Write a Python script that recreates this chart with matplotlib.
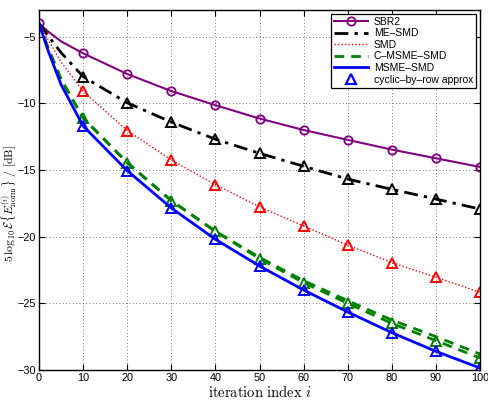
import matplotlib
matplotlib.use("Agg")
import matplotlib.pyplot as plt
from matplotlib.lines import Line2D

plt.rcParams['mathtext.fontset'] = 'cm'
plt.rcParams['font.family'] = ['Liberation Sans', 'DejaVu Sans']

# iteration grid used for the curves
iters = [0, 2, 5, 10, 20, 30, 40, 50, 60, 70, 80, 90, 100]
# marker positions
mk_iters = [10, 20, 30, 40, 50, 60, 70, 80, 90, 100]

sbr2 = [-4.0, -4.6, -5.35, -6.25, -7.8, -9.08, -10.14, -11.14, -12.0, -12.74, -13.47, -14.12, -14.77]
me_smd = [-4.0, -4.9, -6.2, -8.0, -9.96, -11.41, -12.69, -13.75, -14.72, -15.68, -16.45, -17.18, -17.93]
smd = [-4.0, -5.2, -6.9, -9.1, -12.04, -14.25, -16.1, -17.76, -19.2, -20.64, -21.94, -23.05, -24.17]
c_msme = [-4.0, -5.8, -8.2, -11.1, -14.45, -17.3, -19.6, -21.55, -23.3, -24.8, -26.25, -27.5, -28.8]
c_msme_approx = [-4.0, -5.8, -8.2, -11.1, -14.45, -17.3, -19.6, -21.65, -23.45, -25.0, -26.5, -27.8, -29.1]
msme = [-4.0, -6.0, -8.6, -11.7, -15.05, -17.85, -20.2, -22.2, -24.0, -25.65, -27.2, -28.6, -29.85]

sbr2_mk = [-4.0] + sbr2[3:]
me_mk = me_smd[3:]
smd_mk = smd[3:]
c_mk = c_msme_approx[3:]
msme_mk = msme[3:]

labels = ["SBR2", "ME\u2013SMD", "SMD", "C\u2013MSME\u2013SMD", "MSME\u2013SMD", "cyclic\u2013by\u2013row approx"]

purple = '#800080'
green = '#008000'
blue = '#0000ff'

fig = plt.figure(figsize=(4.88, 4.0), dpi=100)
ax = fig.add_axes([0.080, 0.075, 0.9036, 0.90])

ax.plot(iters, sbr2, color=purple, lw=1.5)
ax.plot([0] + mk_iters, sbr2_mk, ls='none', marker='o', ms=6, mfc='none', mec=purple, mew=1.3)

ax.plot(iters, me_smd, color='black', lw=2, ls=(0, (5, 2.2, 1.2, 2.2)))
ax.plot(mk_iters, me_mk, ls='none', marker='^', ms=7, mfc='none', mec='black', mew=1.4)

ax.plot(iters, smd, color='red', lw=1.0, ls=(0, (1, 1.5)))
ax.plot(mk_iters, smd_mk, ls='none', marker='^', ms=7, mfc='none', mec='red', mew=1.4)

ax.plot(iters, c_msme, color=green, lw=2, ls=(0, (3.5, 2.5)))
ax.plot(iters, c_msme_approx, color=green, lw=2, ls=(0, (3.5, 2.5)))
ax.plot(mk_iters, c_mk, ls='none', marker='^', ms=7, mfc='none', mec=green, mew=1.4)

ax.plot(iters, msme, color=blue, lw=2)
ax.plot(mk_iters, msme_mk, ls='none', marker='^', ms=7, mfc='none', mec=blue, mew=1.4)

ax.set_xlim(0, 100)
ax.set_ylim(-30, -3)
ax.set_xticks(range(0, 101, 10))
ax.set_yticks([-30, -25, -20, -15, -10, -5])
ax.tick_params(direction='in', top=True, right=True, labelsize=7.8, length=4, width=0.8, pad=2)
for s in ax.spines.values():
    s.set_linewidth(1.0)
ax.grid(True, ls=(0, (1, 3)), color='#444444', lw=0.6)

ax.set_xlabel(r"$\mathrm{iteration\ index}\ i$", fontsize=10.5, labelpad=1)
ax.set_ylabel(r"$5\,\log_{10}\mathcal{E}\{E_{\mathrm{norm}}^{(i)}\}\ /\ [\mathrm{dB}]$", fontsize=8.5)
ax.yaxis.set_label_coords(-0.047, 0.464)

handles = [
    Line2D([], [], color=purple, lw=1.5, marker='o', ms=6, mfc='none', mew=1.3),
    Line2D([], [], color='black', lw=2, ls=(0, (5, 2.2, 1.2, 2.2))),
    Line2D([], [], color='red', lw=1.0, ls=(0, (1, 1.5))),
    Line2D([], [], color=green, lw=2, ls=(0, (3.5, 2.5))),
    Line2D([], [], color=blue, lw=2),
    Line2D([], [], ls='none', marker='^', ms=7, mfc='none', mec=blue, mew=1.6),
]
leg = ax.legend(handles, labels, loc='upper right', fontsize=7.5, frameon=True, fancybox=False,
                edgecolor='black', framealpha=1, borderaxespad=0.35, handlelength=3.2,
                handletextpad=0.6, labelspacing=0.15, borderpad=0.3)
leg.get_frame().set_linewidth(0.9)

fig.savefig("out.png", dpi=100)
